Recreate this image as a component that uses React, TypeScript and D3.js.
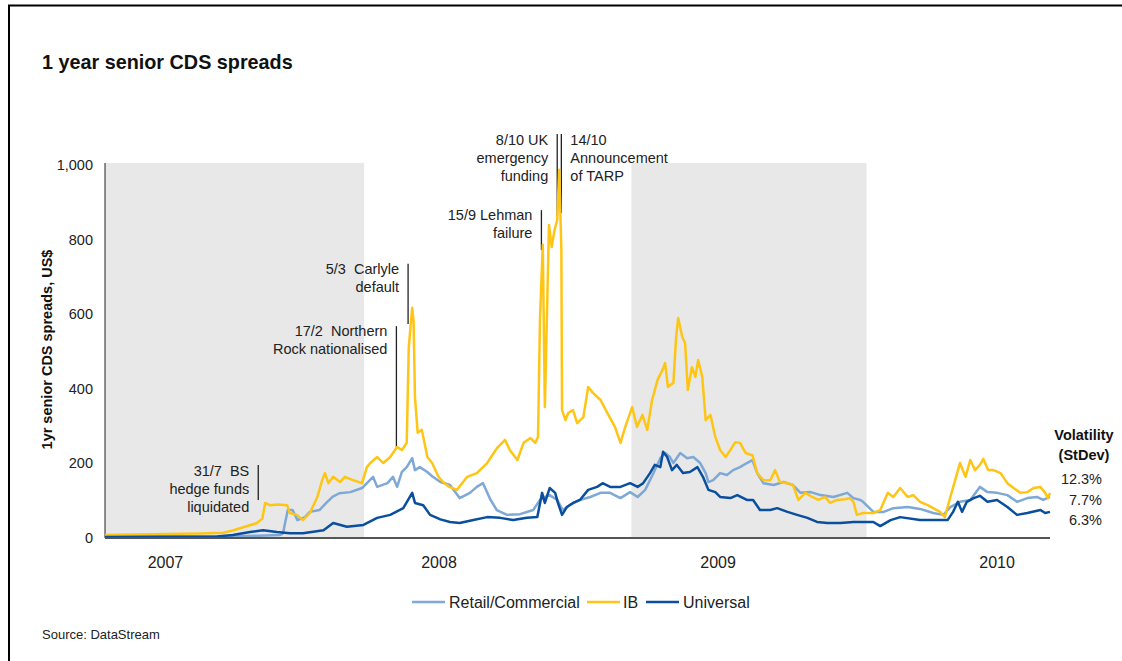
import React from "react";
import * as d3 from "d3";

type Pt = [string, number];

// 1-year senior CDS spreads (US$) by bank type
const retailCommercial: Pt[] = [
  ["2006-12-20",4],["2007-06-01",4],["2007-08-01",6],["2007-09-01",8],["2007-09-05",12],["2007-09-08",40],["2007-09-12",75],["2007-09-19",75],["2007-09-26",48],["2007-10-07",56],["2007-10-14",70],["2007-10-28",75],["2007-11-07",94],["2007-11-16",110],["2007-11-26",120],["2007-12-12",123],["2007-12-29",134],["2008-01-14",164],["2008-01-20",137],["2008-02-04",147],["2008-02-12",164],["2008-02-18",137],["2008-02-25",177],["2008-03-03",190],["2008-03-11",214],["2008-03-15",182],["2008-03-22",190],["2008-04-02",177],["2008-04-10",164],["2008-04-21",150],["2008-05-05",142],["2008-05-19",107],["2008-06-03",121],["2008-06-13",137],["2008-06-22",147],["2008-07-03",102],["2008-07-12",75],["2008-07-27",62],["2008-08-15",64],["2008-09-03",75],["2008-09-13",102],["2008-09-20",110],["2008-09-27",115],["2008-10-08",102],["2008-10-16",75],["2008-10-26",88],["2008-11-10",102],["2008-11-25",110],["2008-12-10",121],["2008-12-24",121],["2009-01-08",107],["2009-01-22",123],["2009-02-02",110],["2009-02-13",129],["2009-02-25",174],["2009-03-07",214],["2009-03-14",228],["2009-03-21",217],["2009-03-26",201],["2009-04-05",228],["2009-04-15",214],["2009-04-24",217],["2009-05-04",201],["2009-05-12",174],["2009-05-16",150],["2009-05-23",155],["2009-06-02",174],["2009-06-12",169],["2009-06-21",182],["2009-07-01",190],["2009-07-11",201],["2009-07-19",209],["2009-07-26",174],["2009-08-04",147],["2009-08-19",142],["2009-09-02",150],["2009-09-16",142],["2009-09-27",121],["2009-10-12",123],["2009-10-26",115],["2009-11-14",110],["2009-12-04",121],["2009-12-13",107],["2009-12-23",102],["2009-12-27",97],["2010-01-11",70],["2010-01-26",70],["2010-02-09",80],["2010-03-02",83],["2010-03-20",78],["2010-04-08",67],["2010-04-23",62],["2010-05-03",83],["2010-05-17",97],["2010-06-01",102],["2010-06-15",137],["2010-06-26",123],["2010-07-10",121],["2010-07-25",115],["2010-08-08",97],["2010-08-23",107],["2010-09-06",110],["2010-09-15",102],["2010-09-25",110],
];

const investmentBanks: Pt[] = [
  ["2006-12-20",8],["2007-02-23",10],["2007-05-07",12],["2007-06-10",14],["2007-06-24",20],["2007-07-15",32],["2007-07-29",40],["2007-08-06",52],["2007-08-10",94],["2007-08-17",88],["2007-08-29",90],["2007-09-11",88],["2007-09-15",67],["2007-09-25",62],["2007-10-04",48],["2007-10-14",67],["2007-10-25",110],["2007-11-01",155],["2007-11-05",174],["2007-11-10",147],["2007-11-17",164],["2007-11-27",150],["2007-12-04",164],["2007-12-16",155],["2007-12-29",147],["2008-01-05",190],["2008-01-10",201],["2008-01-20",217],["2008-01-29",201],["2008-02-08",217],["2008-02-18",244],["2008-02-25",236],["2008-03-03",255],["2008-03-06",512],["2008-03-11",617],["2008-03-13",580],["2008-03-15",378],["2008-03-19",282],["2008-03-25",290],["2008-04-02",217],["2008-04-09",201],["2008-04-18",165],["2008-04-25",150],["2008-05-04",137],["2008-05-15",129],["2008-05-30",164],["2008-06-13",174],["2008-06-28",201],["2008-07-12",240],["2008-07-24",263],["2008-07-31",236],["2008-08-11",209],["2008-08-20",255],["2008-08-30",268],["2008-09-06",255],["2008-09-10",271],["2008-09-13",592],["2008-09-17",786],["2008-09-20",351],["2008-09-23",592],["2008-09-26",839],["2008-09-30",780],["2008-10-04",825],["2008-10-08",853],["2008-10-11",987],["2008-10-14",772],["2008-10-15",343],["2008-10-20",316],["2008-10-24",335],["2008-10-31",343],["2008-11-06",308],["2008-11-15",324],["2008-11-22",405],["2008-11-29",389],["2008-12-10",370],["2008-12-20",335],["2008-12-31",298],["2009-01-08",255],["2009-01-15",298],["2009-01-25",351],["2009-02-01",298],["2009-02-09",330],["2009-02-16",290],["2009-02-23",370],["2009-03-03",424],["2009-03-10",450],["2009-03-14",469],["2009-03-18",405],["2009-03-26",416],["2009-03-30",539],["2009-04-02",590],["2009-04-08",539],["2009-04-12",523],["2009-04-16",397],["2009-04-22",458],["2009-04-27",432],["2009-05-01",477],["2009-05-07",432],["2009-05-12",316],["2009-05-19",330],["2009-05-26",271],["2009-06-02",236],["2009-06-10",217],["2009-06-17",236],["2009-06-24",257],["2009-07-01",255],["2009-07-09",228],["2009-07-19",222],["2009-07-26",174],["2009-08-04",155],["2009-08-14",155],["2009-08-21",182],["2009-08-28",150],["2009-09-08",147],["2009-09-16",142],["2009-09-24",102],["2009-10-04",121],["2009-10-14",110],["2009-10-23",102],["2009-11-02",110],["2009-11-09",94],["2009-11-19",102],["2009-12-01",104],["2009-12-08",107],["2009-12-13",97],["2009-12-18",62],["2009-12-27",67],["2010-01-11",67],["2010-01-21",75],["2010-02-01",121],["2010-02-09",110],["2010-02-19",134],["2010-03-02",110],["2010-03-10",115],["2010-03-20",97],["2010-03-31",88],["2010-04-08",80],["2010-04-18",70],["2010-04-25",56],["2010-05-03",110],["2010-05-10",155],["2010-05-17",201],["2010-05-25",164],["2010-06-01",209],["2010-06-08",182],["2010-06-15",196],["2010-06-20",212],["2010-06-27",182],["2010-07-05",182],["2010-07-15",174],["2010-07-25",147],["2010-08-03",134],["2010-08-13",121],["2010-08-23",123],["2010-09-01",134],["2010-09-11",137],["2010-09-18",121],["2010-09-22",107],["2010-09-25",121],
];

const universalBanks: Pt[] = [
  ["2006-12-20",3],["2007-06-01",4],["2007-06-24",8],["2007-07-19",16],["2007-08-07",21],["2007-08-27",16],["2007-09-15",13],["2007-10-04",13],["2007-11-03",21],["2007-11-17",40],["2007-12-07",30],["2007-12-31",35],["2008-01-20",54],["2008-02-08",62],["2008-02-27",80],["2008-03-11",121],["2008-03-15",94],["2008-03-27",88],["2008-04-06",62],["2008-04-21",50],["2008-05-05",43],["2008-05-19",40],["2008-06-08",48],["2008-06-28",56],["2008-07-17",54],["2008-08-05",48],["2008-08-25",54],["2008-09-09",56],["2008-09-16",121],["2008-09-20",94],["2008-09-27",134],["2008-10-05",121],["2008-10-09",94],["2008-10-15",62],["2008-10-22",83],["2008-10-31",94],["2008-11-10",102],["2008-11-22",129],["2008-12-05",137],["2008-12-13",147],["2008-12-24",137],["2009-01-08",137],["2009-01-22",147],["2009-02-02",137],["2009-02-10",147],["2009-02-20",174],["2009-02-27",196],["2009-03-07",190],["2009-03-11",231],["2009-03-17",217],["2009-03-24",182],["2009-03-31",196],["2009-04-09",174],["2009-04-19",177],["2009-04-30",190],["2009-05-08",164],["2009-05-16",129],["2009-05-26",123],["2009-06-02",110],["2009-06-17",107],["2009-06-27",115],["2009-07-11",102],["2009-07-20",102],["2009-07-30",75],["2009-08-14",75],["2009-08-24",80],["2009-09-08",70],["2009-09-22",62],["2009-10-07",54],["2009-10-21",43],["2009-11-05",40],["2009-11-24",40],["2009-12-13",43],["2010-01-11",43],["2010-01-21",32],["2010-02-05",48],["2010-02-19",56],["2010-03-20",48],["2010-04-29",48],["2010-05-07",70],["2010-05-14",97],["2010-05-20",70],["2010-05-27",97],["2010-06-06",107],["2010-06-15",113],["2010-06-26",97],["2010-07-10",102],["2010-07-25",83],["2010-08-08",62],["2010-08-23",67],["2010-09-11",75],["2010-09-18",67],["2010-09-25",70],
];

const seriesNames = ["Retail/Commercial", "IB", "Universal"];
const volatility = ["7.7%", "12.3%", "6.3%"];
const yTicks = [0, 200, 400, 600, 800, 1000];
const yearLabels: [string, string][] = [
  ["2007", "2007-03-18"],
  ["2008", "2008-04-19"],
  ["2009", "2009-05-30"],
  ["2010", "2010-07-10"],
];
// shaded periods
const shadedPeriods: [string, string][] = [
  ["2006-12-20", "2008-01-01"],
  ["2009-01-24", "2010-01-01"],
];
// event annotations: date, leader line value range, text lines, side
const events: { date: string; top: number; bottom: number; lines: string[]; side: "left" | "right" }[] = [
  { date: "2007-07-31", top: 196, bottom: 102, lines: ["31/7  BS", "hedge funds", "liquidated"], side: "left" },
  { date: "2008-02-17", top: 568, bottom: 244, lines: ["17/2  Northern", "Rock nationalised"], side: "left" },
  { date: "2008-03-05", top: 735, bottom: 574, lines: ["5/3  Carlyle", "default"], side: "left" },
  { date: "2008-09-15", top: 879, bottom: 772, lines: ["15/9 Lehman", "failure"], side: "left" },
  { date: "2008-10-08", top: 1083, bottom: 863, lines: ["8/10 UK", "emergency", "funding"], side: "left" },
  { date: "2008-10-14", top: 1083, bottom: 871, lines: ["14/10", "Announcement", "of TARP"], side: "right" },
];

const parse = d3.timeParse("%Y-%m-%d");
const FONT = "'Liberation Sans', Arial, Helvetica, sans-serif";
const colors = ["#7ea8d5", "#ffc515", "#0a4f9e"];

export default function App() {
  const W = 1122, H = 661;
  const left = 105, right = 1050, top = 165, bottom = 538;
  const x = d3.scaleTime()
    .domain([parse("2006-12-20")!, parse("2010-09-25")!])
    .range([left, right]);
  const y = d3.scaleLinear().domain([0, 1000]).range([bottom, top]);
  const line = d3.line<Pt>()
    .x((d) => x(parse(d[0])!))
    .y((d) => y(d[1]));
  const all = [retailCommercial, investmentBanks, universalBanks];
  const fmt = d3.format(",");

  // legend layout
  const legendItems = [
    { x0: 412, tx: 449 },
    { x0: 587, tx: 623 },
    { x0: 646, tx: 683 },
  ];
  // volatility column order top-to-bottom: IB, Retail, Universal
  const volOrder = [1, 0, 2];

  return (
    <svg width={W} height={H} style={{ position: "absolute", left: 0, top: 0, background: "#fff" }} fontFamily={FONT}>
      <rect x={0} y={0} width={W} height={H} fill="#fff" />
      <rect x={9} y={5.5} width={W + 20} height={H + 20} fill="none" stroke="#000" strokeWidth={2} />
      <text x={42} y={69} fontSize={19.8} fontWeight="bold" fill="#111">1 year senior CDS spreads</text>

      {shadedPeriods.map(([a, b], i) => (
        <rect key={i} x={x(parse(a)!)} y={top - 2} width={x(parse(b)!) - x(parse(a)!)} height={bottom - top + 2} fill="#e8e8e8" />
      ))}

      {/* y axis */}
      <line x1={left} x2={left} y1={top - 2} y2={bottom} stroke="#222" strokeWidth={1} />
      {yTicks.map((t) => (
        <text key={t} x={93} y={y(t) + 5} textAnchor="end" fontSize={14.5} fill="#222">{fmt(t)}</text>
      ))}
      <text transform={`translate(52,${(top + bottom) / 2 - 2}) rotate(-90)`} textAnchor="middle" fontSize={14.5} fontWeight="bold" fill="#111">
        1yr senior CDS spreads, US$
      </text>

      {/* events */}
      {events.map((e, i) => {
        const ex = x(parse(e.date)!);
        const y0 = y(e.top);
        const y1 = y(e.bottom);
        const firstBase = y0 + (e.lines.length === 3 ? 11 : 10);
        return (
          <g key={i}>
            <line x1={ex} x2={ex} y1={y0} y2={y1} stroke="#222" strokeWidth={1.3} />
            {e.lines.map((l, j) => (
              <text key={j} x={e.side === "left" ? ex - 9 : ex + 9} y={firstBase + j * 18} textAnchor={e.side === "left" ? "end" : "start"} fontSize={14.5} fill="#222" style={{ whiteSpace: "pre" }}>
                {l}
              </text>
            ))}
          </g>
        );
      })}

      {/* series */}
      {all.map((s, i) => (
        <path key={i} d={line(s)!} fill="none" stroke={colors[i]} strokeWidth={2.5} strokeLinejoin="round" />
      ))}

      {/* x axis */}
      <line x1={left} x2={right} y1={bottom} y2={bottom} stroke="#555" strokeWidth={2} />
      {yearLabels.map(([lab, d]) => (
        <text key={lab} x={x(parse(d)!)} y={568} textAnchor="middle" fontSize={16} fill="#222">{lab}</text>
      ))}

      {/* volatility */}
      <text x={1084} y={440} textAnchor="middle" fontSize={14.5} fontWeight="bold" fill="#111">Volatility</text>
      <text x={1084} y={460} textAnchor="middle" fontSize={14.5} fontWeight="bold" fill="#111">(StDev)</text>
      {volOrder.map((k, j) => (
        <text key={k} x={1102} y={484 + j * 20.5} textAnchor="end" fontSize={14.5} fill="#222">{volatility[k]}</text>
      ))}

      {/* legend */}
      {seriesNames.map((n, i) => (
        <g key={n}>
          <line x1={legendItems[i].x0} x2={legendItems[i].x0 + 33} y1={602} y2={602} stroke={colors[i]} strokeWidth={2.5} />
          <text x={legendItems[i].tx} y={607.5} fontSize={16} fill="#222">{n}</text>
        </g>
      ))}

      <text x={42} y={639} fontSize={13} fill="#222">Source: DataStream</text>
    </svg>
  );
}
